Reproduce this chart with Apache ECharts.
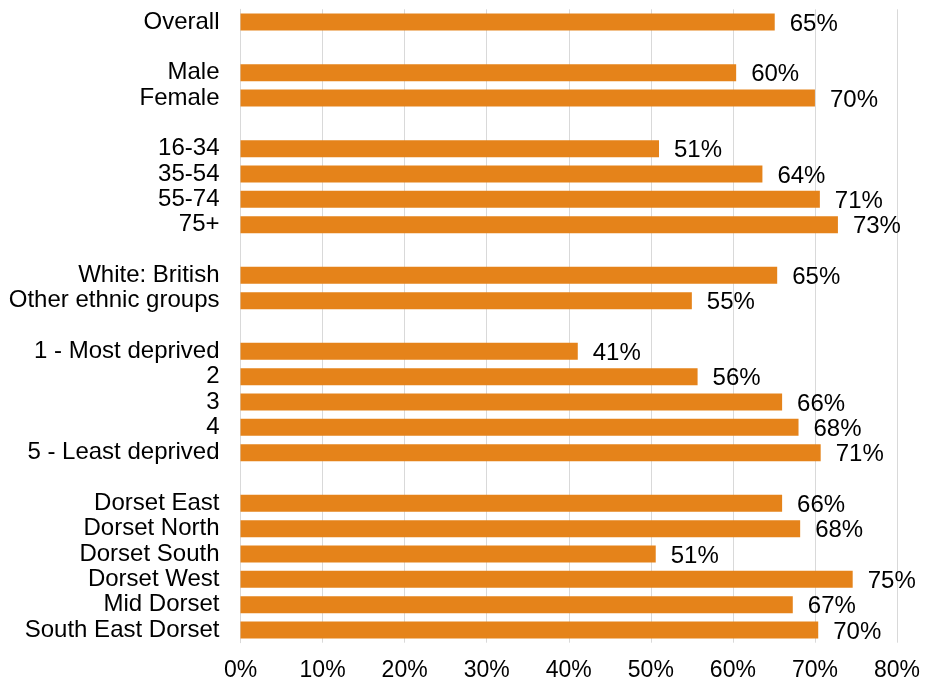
<!DOCTYPE html>
<html>
<head>
<meta charset="utf-8">
<script src="https://cdn.jsdelivr.net/npm/echarts@6/dist/echarts.min.js"></script>
<style>
  html, body { margin: 0; padding: 0; background: #fff; }
  #chart { width: 925px; height: 689px; }
</style>
</head>
<body>
<div id="chart"></div>
<script>
// blank strings are the gaps between groups
const categories = [
  'Overall', '',
  'Male', 'Female', '',
  '16-34', '35-54', '55-74', '75+', '',
  'White: British', 'Other ethnic groups', '',
  '1 - Most deprived', '2', '3', '4', '5 - Least deprived', '',
  'Dorset East', 'Dorset North', 'Dorset South', 'Dorset West', 'Mid Dorset', 'South East Dorset'
];

const values = [
  65.1, null,
  60.4, 70.0, null,
  51.0, 63.6, 70.6, 72.8, null,
  65.4, 55.0, null,
  41.1, 55.7, 66.0, 68.0, 70.7, null,
  66.0, 68.2, 50.6, 74.6, 67.3, 70.4
];

const xTicks = [0, 10, 20, 30, 40, 50, 60, 70, 80];

const font = 'Liberation Sans, Arial, sans-serif';

const chart = echarts.init(document.getElementById('chart'));
chart.setOption({
  animation: false,
  grid: { left: 240.5, right: 28, top: 9.3, bottom: 46.3, containLabel: false },
  xAxis: {
    type: 'value',
    min: xTicks[0],
    max: xTicks[xTicks.length - 1],
    interval: 10,
    axisLine: { show: false },
    axisTick: { show: false },
    splitLine: { show: true, lineStyle: { color: '#d9d9d9', width: 1 } },
    axisLabel: {
      margin: 16,
      fontFamily: font,
      fontSize: 23,
      color: '#000',
      formatter: v => v + '%'
    }
  },
  yAxis: {
    type: 'category',
    inverse: true,
    data: categories,
    axisLine: { show: true, lineStyle: { color: '#d9d9d9', width: 1 } },
    axisTick: { show: false },
    axisLabel: {
      margin: 21,
      fontFamily: font,
      fontSize: 24,
      color: '#000',
      padding: [4, 0, 0, 0],
      interval: 0
    }
  },
  series: [{
    type: 'bar',
    data: values,
    barWidth: 17,
    itemStyle: { color: '#E5831A' },
    label: {
      show: true,
      position: 'right',
      distance: 15,
      offset: [0, 2],
      fontFamily: font,
      fontSize: 24,
      color: '#000',
      formatter: p => Math.round(p.value) + '%'
    }
  }]
});
window.onresize = function () {
  chart.resize();
};
</script>
</body>
</html>
